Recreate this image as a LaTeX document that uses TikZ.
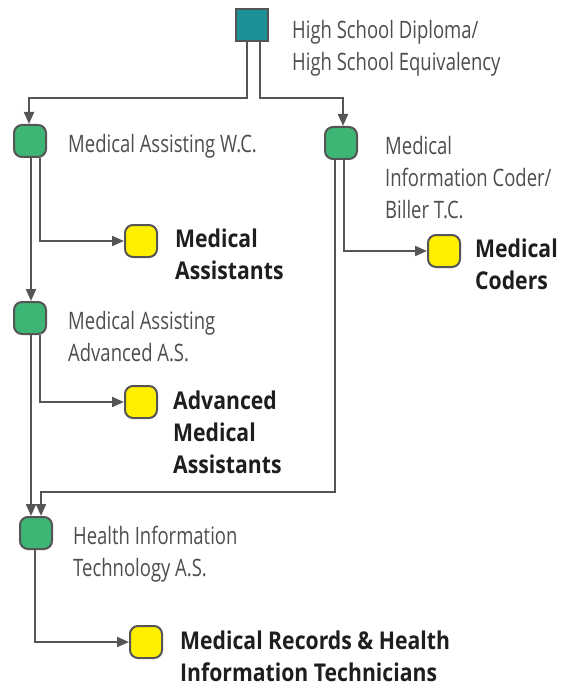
\documentclass[tikz,border=0pt]{standalone}
\usepackage{fontspec}
\setmainfont[FakeStretch=0.77]{Open Sans}
\newfontfamily\boldf[FakeStretch=0.865]{Open Sans}
\usetikzlibrary{arrows.meta}
\definecolor{teal1}{HTML}{1C9199}
\definecolor{green1}{HTML}{3DB574}
\definecolor{yellow1}{HTML}{FFF000}
\definecolor{lineg}{HTML}{555555}
\definecolor{txtg}{HTML}{4D4D4D}
\definecolor{txtb}{HTML}{1E1E1E}
\tikzset{
  box/.style={draw=lineg, line width=2pt, minimum size=32pt, inner sep=0pt, rounded corners=8pt},
  degree/.style={box, fill=green1},
  career/.style={box, fill=yellow1},
  top/.style={draw=lineg, line width=2pt, minimum size=32pt, inner sep=0pt, fill=teal1},
  lbl/.style={anchor=north west, inner sep=0pt, align=left, text=txtg,
    font=\fontsize{24pt}{32pt}\selectfont},
  blbl/.style={lbl, text=txtb, font=\boldf\fontsize{24.5pt}{32pt}\selectfont\bfseries},
  arr/.style={draw=lineg, line width=2pt, -{Triangle[length=12pt,width=10pt]}},
  ln/.style={draw=lineg, line width=2pt}
}
\begin{document}
\begin{tikzpicture}[x=1pt,y=-1pt]
\useasboundingbox (0,0) rectangle (569,687);
\node[top] (hs) at (252,25) {};
\node[degree] (ma) at (30,141) {};
\node[degree] (mi) at (341,143) {};
\node[degree] (maa) at (30,318) {};
\node[degree] (hit) at (36,533) {};
\node[career] (y1) at (141,241) {};
\node[career] (y2) at (444,251) {};
\node[career] (y3) at (141,402) {};
\node[career] (y4) at (146,642) {};

\node[lbl] (hsl) at (292,20) {High School Diploma/\\High School Equivalency};
\node[lbl] (mal) at (68,134) {Medical Assisting W.C.};
\node[lbl] (mil) at (385,136) {Medical\\Information Coder/\\Biller T.C.};
\node[lbl] (maal) at (68,311) {Medical Assisting\\Advanced A.S.};
\node[lbl] (hitl) at (73,526) {Health Information\\Technology A.S.};
\node[blbl] (y1l) at (175,229) {Medical\\Assistants};
\node[blbl] (y2l) at (475,239) {Medical\\Coders};
\node[blbl] (y3l) at (173,391) {Advanced\\Medical\\Assistants};
\node[blbl] (y4l) at (180,631) {Medical Records \& Health\\Information Technicians};

\draw[arr] ([xshift=-5pt]hs.south) -- ++(0,56) -| ([xshift=-1pt]ma.north);
\draw[arr] ([xshift=8pt]hs.south) -- ++(0,56) -| ([xshift=2pt]mi.north);
\draw[arr] ([xshift=1pt]ma.south) -- ([xshift=1pt]maa.north);
\draw[arr] ([xshift=10pt]ma.south) |- (y1.west);
\draw[arr] ([xshift=3pt]mi.south) |- (y2.west);
\draw[arr] ([xshift=-6pt]mi.south) -- ++(0,332) -| ([xshift=5pt]hit.north);
\draw[arr] ([xshift=1pt]maa.south) -- ([xshift=-5pt]hit.north);
\draw[arr] ([xshift=10pt]maa.south) |- (y3.west);
\draw[arr] ([xshift=-1pt]hit.south) |- (y4.west);
\end{tikzpicture}
\end{document}
